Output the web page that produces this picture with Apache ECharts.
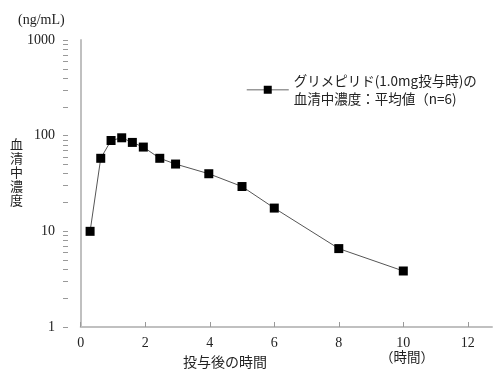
<!DOCTYPE html>
<html><head><meta charset="utf-8">
<script src="https://cdn.jsdelivr.net/npm/echarts@6/dist/echarts.min.js"></script>
<style>html,body{margin:0;padding:0;background:#fff}#c{width:502px;height:384px}</style>
</head><body><div id="c"></div>
<script>
const seriesName = 'グリメピリド(1.0mg投与時)の血清中濃度：平均値（n=6)';
const times = [0.29, 0.62, 0.94, 1.27, 1.6, 1.94, 2.45, 2.94, 3.97, 5, 6, 8, 10];
const conc = [10, 58, 89, 95, 85, 76, 58, 50.5, 40, 29.4, 17.5, 6.6, 3.85];
const xTicks = [0, 2, 4, 6, 8, 10, 12];
const yLabels = [1, 10, 100, 1000];
const yTicks = [1,2,3,4,5,6,7,8,9,10,20,30,40,50,60,70,80,90,100,200,300,400,500,600,700,800,900,1000];
const yNameChars = ['血', '清', '中', '濃', '度'];

const serif = '"Liberation Serif","DejaVu Serif",serif';
const cjk = '"Noto Sans CJK JP",sans-serif';
const axisGrey = '#c0c0c0';
const chart = echarts.init(document.getElementById('c'));
chart.setOption({
  animation: false,
  grid: [
    {left: 63, right: 10, top: 40, bottom: 57},
    {left: 80.7, right: 10, top: 40, bottom: 57}
  ],
  legend: {
    left: 246, top: 62, padding: 0,
    itemWidth: 42, itemHeight: 10,
    data: [seriesName],
    lineStyle: {color: '#999', width: 1.5},
    formatter: function () { return 'グリメピリド(1.0mg投与時)の\n血清中濃度：平均値（n=6)'; },
    textStyle: {fontFamily: cjk, fontSize: 13.5, color: '#222', lineHeight: 18.5, padding: [18.5, 0, 0, 0]}
  },
  xAxis: [{
    type: 'value', min: -0.55, max: 12.75, gridIndex: 0,
    name: '投与後の時間', nameLocation: 'middle', nameGap: 22,
    nameTextStyle: {fontFamily: cjk, fontSize: 14, color: '#222', padding: [0, 105, 0, 0]},
    axisLine: {show: false},
    axisTick: {inside: true, length: 5, customValues: xTicks, lineStyle: {color: '#999'}},
    axisLabel: {customValues: xTicks, fontFamily: serif, fontSize: 14, color: '#222', margin: 9},
    splitLine: {show: false}
  }, {
    type: 'value', min: 0, max: 12.75, gridIndex: 1,
    axisLine: {show: true, onZero: false, lineStyle: {color: axisGrey, width: 2}},
    axisTick: {show: false}, axisLabel: {show: false}, splitLine: {show: false}
  }],
  yAxis: [{
    type: 'log', logBase: 10, min: 1, max: 1000, gridIndex: 0,
    axisLine: {show: true, lineStyle: {color: axisGrey, width: 2}},
    axisTick: {show: false},
    axisLabel: {customValues: yLabels, fontFamily: serif, fontSize: 14, color: '#222', margin: 8,
      formatter: function (v) { return String(Math.round(v)); }},
    splitLine: {show: false}, minorTick: {show: false}
  }, {
    type: 'value', min: 0, max: 3, gridIndex: 0, position: 'left',
    axisLine: {show: false},
    axisTick: {show: true, inside: true, length: 5, customValues: yTicks.map(v => Math.log10(v)), lineStyle: {color: '#999'}},
    axisLabel: {show: false}, splitLine: {show: false}
  }, {
    type: 'value', gridIndex: 1, show: false
  }],
  series: [{
    name: seriesName, type: 'line', xAxisIndex: 0, yAxisIndex: 0,
    data: times.map((t, i) => [t, conc[i]]),
    symbol: 'rect', symbolSize: 9,
    itemStyle: {color: '#000'},
    lineStyle: {color: '#555', width: 1}
  }],
  graphic: [
    {type: 'text', left: 18, top: 13, style: {text: '(ng/mL)', font: '14px ' + serif, fill: '#222'}}
  ].concat(yNameChars.map((ch, i) => ({
    type: 'text', left: 10, top: 138 + i * 14, style: {text: ch, font: '13px ' + cjk, fill: '#222'}
  }))).concat([
    {type: 'text', left: 380, top: 350, style: {text: '（時間）', font: '13.5px ' + cjk, fill: '#222'}}
  ])
});
</script></body></html>
